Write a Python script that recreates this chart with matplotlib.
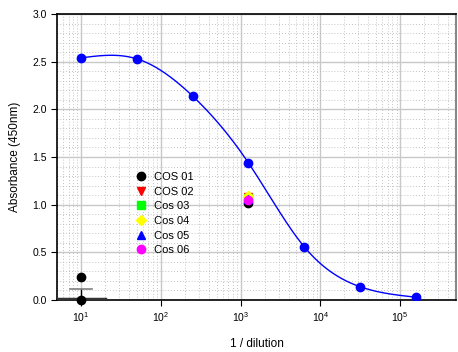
import matplotlib
matplotlib.use("Agg")
import matplotlib.pyplot as plt
import numpy as np
from matplotlib.ticker import LogLocator, MultipleLocator

plt.rcParams['font.family'] = ['Liberation Sans', 'DejaVu Sans']

# standard curve
dilution = [10, 50, 250, 1250, 6250, 31250, 156250]
absorb = [2.54, 2.53, 2.14, 1.44, 0.56, 0.14, 0.03]

# samples (all at 1/1250)
samples = ['COS 01', 'COS 02', 'Cos 03', 'Cos 04', 'Cos 05', 'Cos 06']
sample_x = [1250, 1250, 1250, 1250, 1250, 1250]
sample_y = [1.02, 1.08, 1.07, 1.09, 1.06, 1.05]
colors = ['black', 'red', '#00ff00', 'yellow', 'blue', 'magenta']
markers = ['o', 'v', 's', 'D', '^', 'o']

# blank points at 1/10
blank_x = [10, 10]
blank_y = [0.24, 0.0]
blank_err = 0.12


def natural_spline(x, y, xs):
    # natural cubic spline, used only to draw the smooth fitted line
    x = np.asarray(x, float)
    y = np.asarray(y, float)
    n = len(x)
    h = np.diff(x)
    A = np.zeros((n, n))
    r = np.zeros(n)
    A[0, 0] = 1
    A[-1, -1] = 1
    for i in range(1, n - 1):
        A[i, i - 1] = h[i - 1]
        A[i, i] = 2 * (h[i - 1] + h[i])
        A[i, i + 1] = h[i]
        r[i] = 3 * ((y[i + 1] - y[i]) / h[i] - (y[i] - y[i - 1]) / h[i - 1])
    c = np.linalg.solve(A, r)
    b = (y[1:] - y[:-1]) / h - h * (2 * c[:-1] + c[1:]) / 3
    d = (c[1:] - c[:-1]) / (3 * h)
    idx = np.clip(np.searchsorted(x, xs) - 1, 0, n - 2)
    dx = xs - x[idx]
    return y[idx] + b[idx] * dx + c[idx] * dx ** 2 + d[idx] * dx ** 3


fig = plt.figure(figsize=(4.58, 3.52), dpi=100)
ax = fig.add_axes([0.1245, 0.1477, 0.871, 0.8125])

lx = np.log10(dilution)
xs = np.linspace(lx[0], lx[-1], 300)
ax.plot(10 ** xs, natural_spline(lx, absorb, xs), color='blue', lw=1, zorder=3)
ax.plot(dilution, absorb, 'o', color='blue', ms=6, zorder=4)

for name, x, y, c, m in zip(samples, sample_x, sample_y, colors, markers):
    ax.plot(x, y, m, color=c, ms=6 if m != 'D' else 5, label=name, zorder=4)

ax.plot(blank_x, blank_y, 'o', color='black', ms=6, zorder=4, clip_on=False)
ax.plot([10, 10], [0, blank_err], color='black', lw=1, zorder=3)
ax.plot([7.2, 13.8], [blank_err, blank_err], color='gray', lw=1.2, zorder=3)
ax.plot([5, 20], [0.012, 0.012], color='#333333', lw=2.5, zorder=3)

ax.set_xscale('log')
ax.set_xlim(5, 5e5)
ax.set_ylim(0, 3.0)
ax.yaxis.set_major_locator(MultipleLocator(0.5))
ax.yaxis.set_minor_locator(MultipleLocator(0.1))
ax.xaxis.set_major_locator(LogLocator(base=10, numticks=10))
ax.xaxis.set_minor_locator(LogLocator(base=10, subs=np.arange(2, 10), numticks=20))

ax.grid(True, which='major', color='#c8c8c8', lw=1)
ax.grid(True, which='minor', color='#b0b0b0', lw=0.6, ls=(0, (1, 2.5)))
ax.set_axisbelow(True)

ax.tick_params(which='major', direction='out', length=4, labelsize=7.5, colors='black')
ax.tick_params(which='minor', length=0)
ax.spines['right'].set_color('#888888')
ax.spines['right'].set_linewidth(1.5)
for s in ['left', 'bottom', 'top']:
    ax.spines[s].set_linewidth(1.2)

ax.set_xlabel('1 / dilution', fontsize=8.5, labelpad=10)
ax.set_ylabel('Absorbance (450nm)', fontsize=8.5, labelpad=8)

ax.legend(loc='upper left', bbox_to_anchor=(0.18, 0.467), frameon=False,
          fontsize=8, handletextpad=0.6, labelspacing=0.42, borderpad=0,
          handlelength=1.2, markerscale=1)

fig.savefig('out.png', dpi=100)
